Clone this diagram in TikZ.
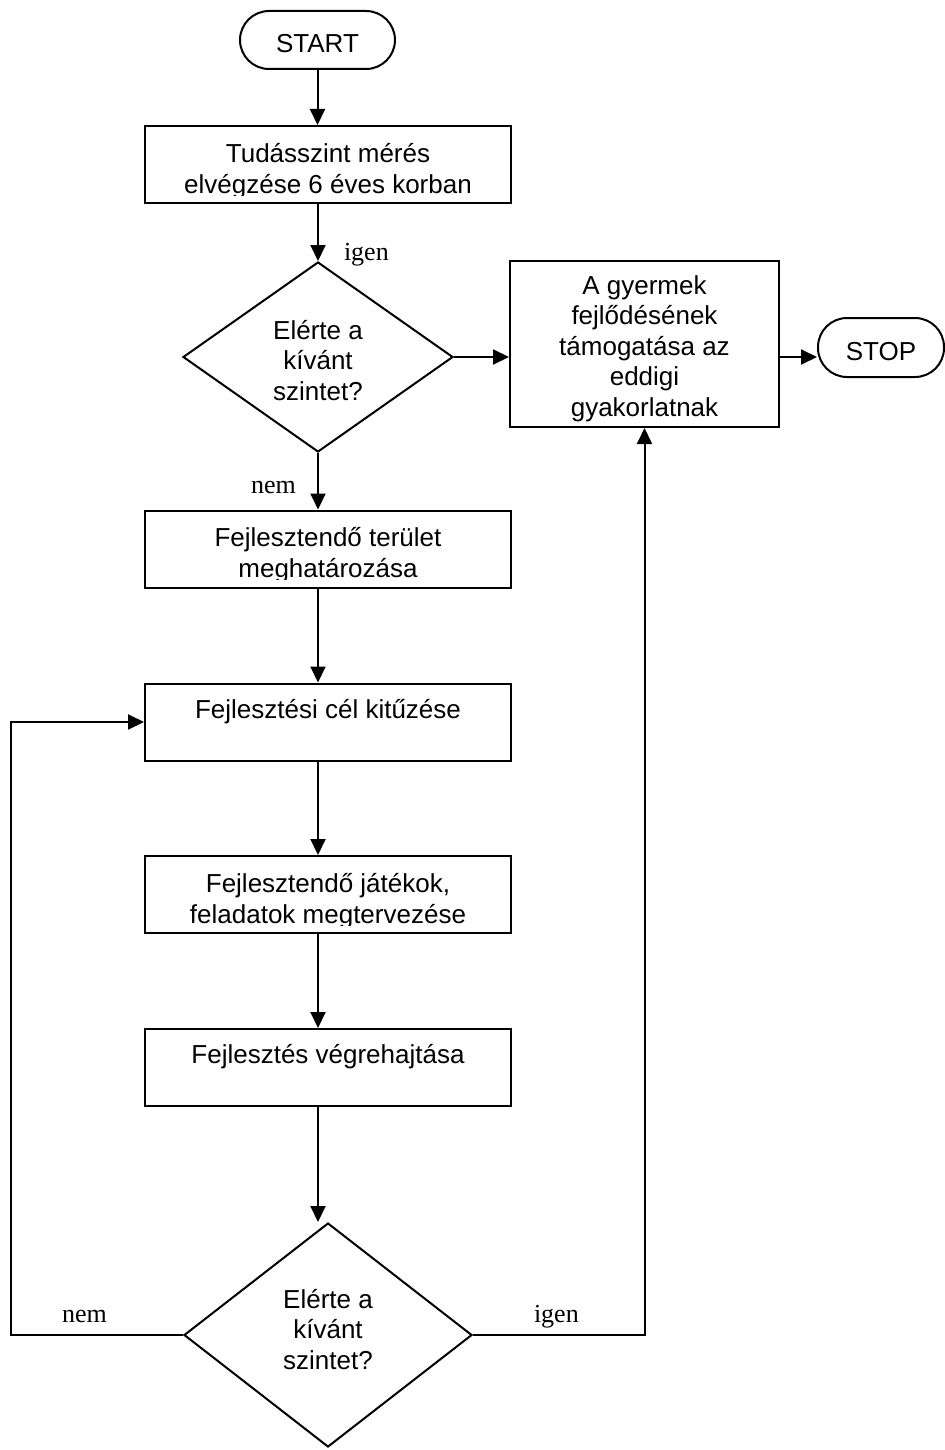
\documentclass[tikz,border=0pt]{standalone}
\usepackage{fontspec}
\newfontfamily\lsans{Liberation Sans}
\newfontfamily\lserif{Liberation Serif}
\usetikzlibrary{arrows.meta,shapes.geometric}

\begin{document}
\begin{tikzpicture}[x=0.5pt,y=-0.5pt,
  line width=1pt,
  box/.style={draw, rectangle, minimum width=183pt, minimum height=38.5pt, inner sep=0pt},
  term/.style={draw, rectangle, rounded corners=14.5pt, inner sep=0pt},
  dec/.style={draw, diamond, inner sep=0pt},
  % multi-line texts: the base anchor sits on the last line's baseline
  txt/.style={font=\lsans\fontsize{13pt}{15.2pt}\selectfont, align=center, anchor=base, inner sep=0pt},
  lbl/.style={font=\lserif\fontsize{13pt}{15pt}\selectfont, anchor=base west, inner sep=0pt},
  flow/.style={-{Triangle[length=8pt,width=7.5pt]}},
]
\useasboundingbox (0,0) rectangle (945,1450);

% terminals
\node[term, minimum width=77.5pt, minimum height=29pt] (start) at (317.5,40) {};
\node[txt] (starttxt) at (317.5,53) {START};
\node[term, minimum width=63pt, minimum height=29.5pt] (stop) at (881,347.5) {};
\node[txt] (stoptxt) at (881,360) {STOP};

% process boxes
\node[box] (box1) at (328,164.5) {};
\node[box] (box2) at (328,549) {};
\node[box] (box3) at (328,722) {};
\node[box] (box4) at (328,894.5) {};
\node[box] (box5) at (328,1067.5) {};
\node[draw, rectangle, minimum width=134.5pt, minimum height=83pt, inner sep=0pt] (rbox) at (644.5,344) {};

% decisions
\node[dec, minimum width=135pt, minimum height=95pt] (d1) at (318,357) {};
\node[dec, minimum width=144pt, minimum height=112pt] (d2) at (328,1335) {};

% box texts (two-line boxes are cut off just under the last baseline)
\begin{scope}
  \clip (145,126) rectangle (511,195);
  \node[txt] (t1) at (328,193) {Tudásszint mérés\\elvégzése 6 éves korban};
\end{scope}
\begin{scope}
  \clip (145,510) rectangle (511,579);
  \node[txt] (t2) at (328,577) {Fejlesztendő terület\\meghatározása};
\end{scope}
\node[txt] (t3) at (328,718) {Fejlesztési cél kitűzése};
\begin{scope}
  \clip (145,856) rectangle (511,925);
  \node[txt] (t4) at (328,923) {Fejlesztendő játékok,\\feladatok megtervezése};
\end{scope}
\node[txt] (t5) at (328,1063) {Fejlesztés végrehajtása};
\node[txt] (tr) at (644.5,416) {A gyermek\\fejlődésének\\támogatása az\\eddigi\\gyakorlatnak};
\node[txt] (td1) at (318,400) {Elérte a\\kívánt\\szintet?};
\node[txt] (td2) at (328,1369) {Elérte a\\kívánt\\szintet?};

% branch labels
\node[lbl] (l1) at (343,260) {igen};
\node[lbl] (l2) at (250,493) {nem};
\node[lbl] (l3) at (61,1322) {nem};
\node[lbl] (l4) at (533,1322) {igen};

% connectors
\draw[flow] (start.south) -- (start.south |- box1.north);
\draw[flow] (box1.south -| d1.north) -- (d1.north);
\draw[flow] (d1.east) -- (d1.east -| rbox.west);
\draw[flow] (d1.east -| rbox.east) -- (d1.east -| stop.west);
\draw[flow] (d1.south) -- (d1.south |- box2.north);
\draw[flow] (box2.south -| d1.south) -- (box3.north -| d1.south);
\draw[flow] (box3.south -| d1.south) -- (box4.north -| d1.south);
\draw[flow] (box4.south -| d1.south) -- (box5.north -| d1.south);
\draw[flow] (box5.south -| d1.south) -- (d2.north -| d1.south);
\coordinate (lc) at (11,1335);
\draw[flow] (d2.west) -- (lc) |- (box3.west);
\draw[flow] (d2.east) -| (rbox.south);
\end{tikzpicture}
\end{document}
